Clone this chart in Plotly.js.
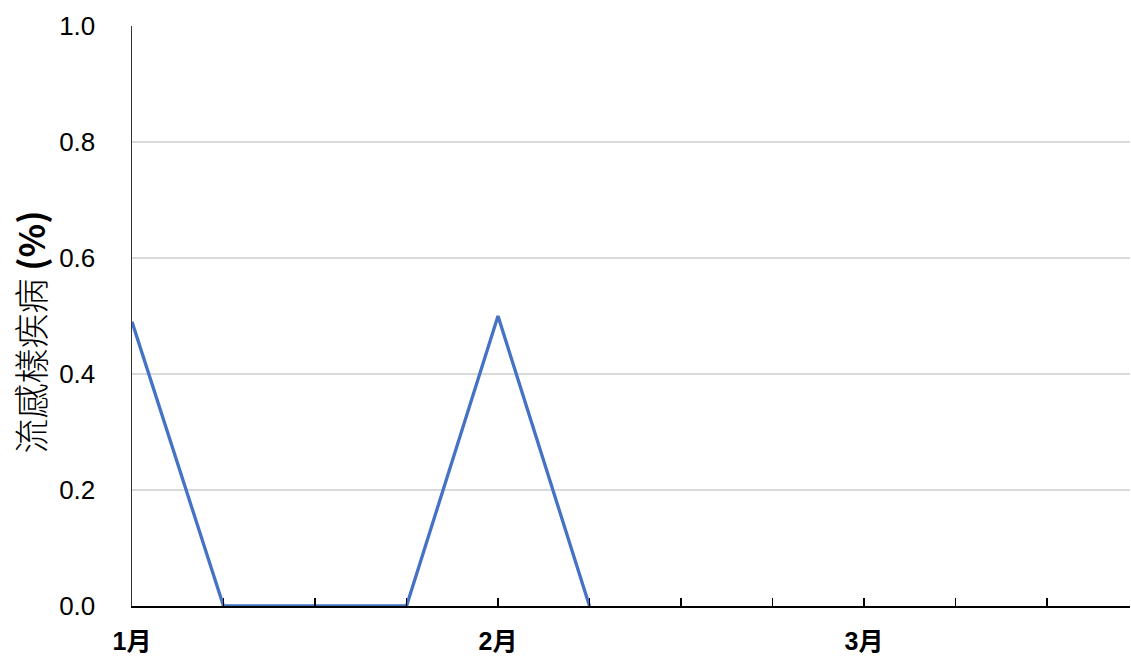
<!DOCTYPE html>
<html>
<head>
<meta charset="utf-8">
<script src="https://cdn.plot.ly/plotly-3.0.1.min.js"></script>
<style>html,body{margin:0;padding:0;background:#fff;}#chart{width:1131px;height:656px;}</style>
</head>
<body>
<div id="chart"></div>
<script>
// Week index positions (categories) and their labels
var weekIndex = [0, 1, 2, 3, 4, 5, 6, 7, 8, 9, 10];
var weekLabels = ["1月", "", "", "", "2月", "", "", "", "3月", "", ""];
// ILI percentage per week (null = no data yet)
var iliValues = [0.49, 0, 0, 0, 0.5, 0, null, null, null, null, null];
var yTicks = [0, 0.2, 0.4, 0.6, 0.8, 1.0];
var yTickText = ["0.0", "0.2", "0.4", "0.6", "0.8", "1.0"];
var yTitle = "流感樣疾病 <b>(%)</b>";

var trace = {
  x: weekIndex,
  y: iliValues,
  type: "scatter",
  mode: "lines",
  line: {color: "#4472C4", width: 3.3},
  connectgaps: false,
  hoverinfo: "skip"
};

var layout = {
  width: 1131,
  height: 656,
  margin: {l: 132, r: 1, t: 26, b: 50},
  paper_bgcolor: "#ffffff",
  plot_bgcolor: "#ffffff",
  showlegend: false,
  font: {family: "Liberation Sans, Arial, sans-serif", color: "#000"},
  xaxis: {
    range: [0, 10.907],
    tickmode: "array",
    tickvals: weekIndex,
    ticktext: weekLabels,
    ticks: "inside",
    ticklen: 8,
    tickwidth: 1.5,
    tickcolor: "#000",
    showline: true,
    linecolor: "#000",
    linewidth: 2,
    showgrid: false,
    zeroline: false,
    tickfont: {size: 25, family: "Liberation Sans, Noto Sans CJK TC, sans-serif", weight: "bold", color: "#000"},
    ticklabelstandoff: 12
  },
  yaxis: {
    range: [0, 1.0],
    tickmode: "array",
    tickvals: yTicks,
    ticktext: yTickText,
    showline: true,
    linecolor: "#333",
    linewidth: 1.5,
    showgrid: true,
    gridcolor: "#d9d9d9",
    gridwidth: 1.3,
    zeroline: false,
    ticks: "outside",
    ticklen: 0,
    tickcolor: "rgba(0,0,0,0)",
    ticklabelstandoff: 30,
    tickfont: {size: 26, color: "#000"}
  },
  annotations: [{
    text: yTitle,
    xref: "paper", yref: "paper",
    x: -0.1032, y: 0.4716,
    xanchor: "center", yanchor: "middle",
    textangle: -90,
    showarrow: false,
    font: {size: 35, family: "Noto Sans CJK TC, Liberation Sans, sans-serif", weight: 300, color: "#000"}
  }]
};

Plotly.newPlot("chart", [trace], layout, {displayModeBar: false, staticPlot: true});
</script>
</body>
</html>
